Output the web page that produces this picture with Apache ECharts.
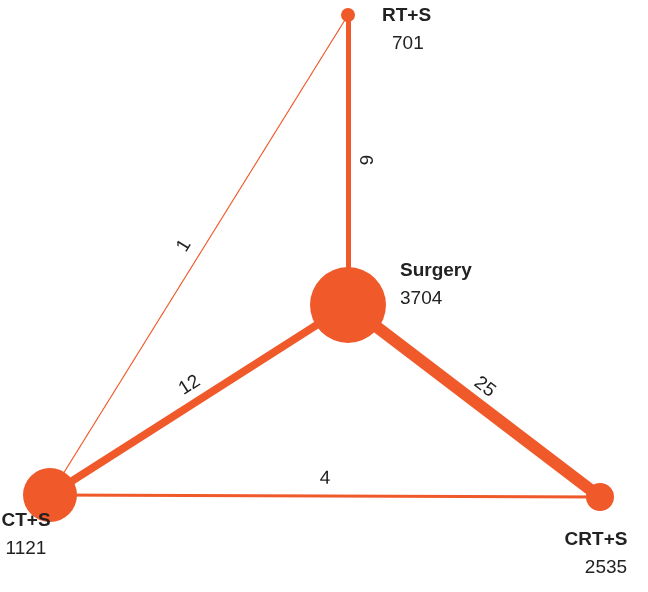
<!DOCTYPE html>
<html><head><meta charset="utf-8">
<script src="https://cdn.jsdelivr.net/npm/echarts@6/dist/echarts.min.js"></script>
<style>html,body{margin:0;padding:0;background:#fff}#c{width:648px;height:592px}</style>
</head><body><div id="c"></div>
<script>
const nodeNames = ['RT+S', 'Surgery', 'CT+S', 'CRT+S'];
const nodeCounts = [701, 3704, 1121, 2535];
const nodeX = [348, 348, 50, 600];
const nodeY = [15, 305, 495, 497];
const linkSource = [0, 2, 1, 2, 2];
const linkTarget = [1, 1, 3, 3, 0];
const linkStudies = [6, 12, 25, 4, 1];

const sizes = [14, 76, 54, 28];
const labelOffsets = [[34, 15], [52, -20], [-24, 40], [-4, 57]];
const labelAlign = ['left', 'left', 'center', 'center'];
const widths = {6: 5, 12: 8, 25: 12, 4: 3, 1: 1.2};
const color = '#F0592A';

const chart = echarts.init(document.getElementById('c'));
chart.setOption({
  animation: false,
  grid: {left: 0, right: 0, top: 0, bottom: 0},
  xAxis: {type: 'value', min: 0, max: 648, show: false},
  yAxis: {type: 'value', min: 0, max: 592, inverse: true, show: false},
  series: [{
    type: 'graph',
    coordinateSystem: 'cartesian2d',
    layout: 'none',
    z: 2,
    data: nodeNames.map((n, i) => ({
      name: n,
      value: [nodeX[i], nodeY[i]],
      symbolSize: sizes[i],
      itemStyle: {color: color},
      label: {
        show: true, position: 'inside', offset: labelOffsets[i], align: labelAlign[i],
        formatter: '{a|' + n + '}\n{b|' + nodeCounts[i] + '}',
        rich: {
          a: {fontFamily: 'Liberation Sans, Arial', fontWeight: 'bold', fontSize: 19, color: '#222', lineHeight: 28},
          b: {fontFamily: 'Liberation Sans, Arial', fontSize: 19, color: '#222', lineHeight: 28, padding: [0, 0, 0, i === 0 ? 10 : (i === 3 ? 20 : 0)]}
        }
      }
    })),
    links: linkSource.map((s, i) => ({
      source: s, target: linkTarget[i],
      lineStyle: {width: widths[linkStudies[i]], color: color, opacity: 1},
      label: {show: true, formatter: String(linkStudies[i])}
    })),
    edgeLabel: {show: true, position: 'middle', fontSize: 19, color: '#222', fontFamily: 'Liberation Sans, Arial', distance: 8}
  }]
});
</script></body></html>
